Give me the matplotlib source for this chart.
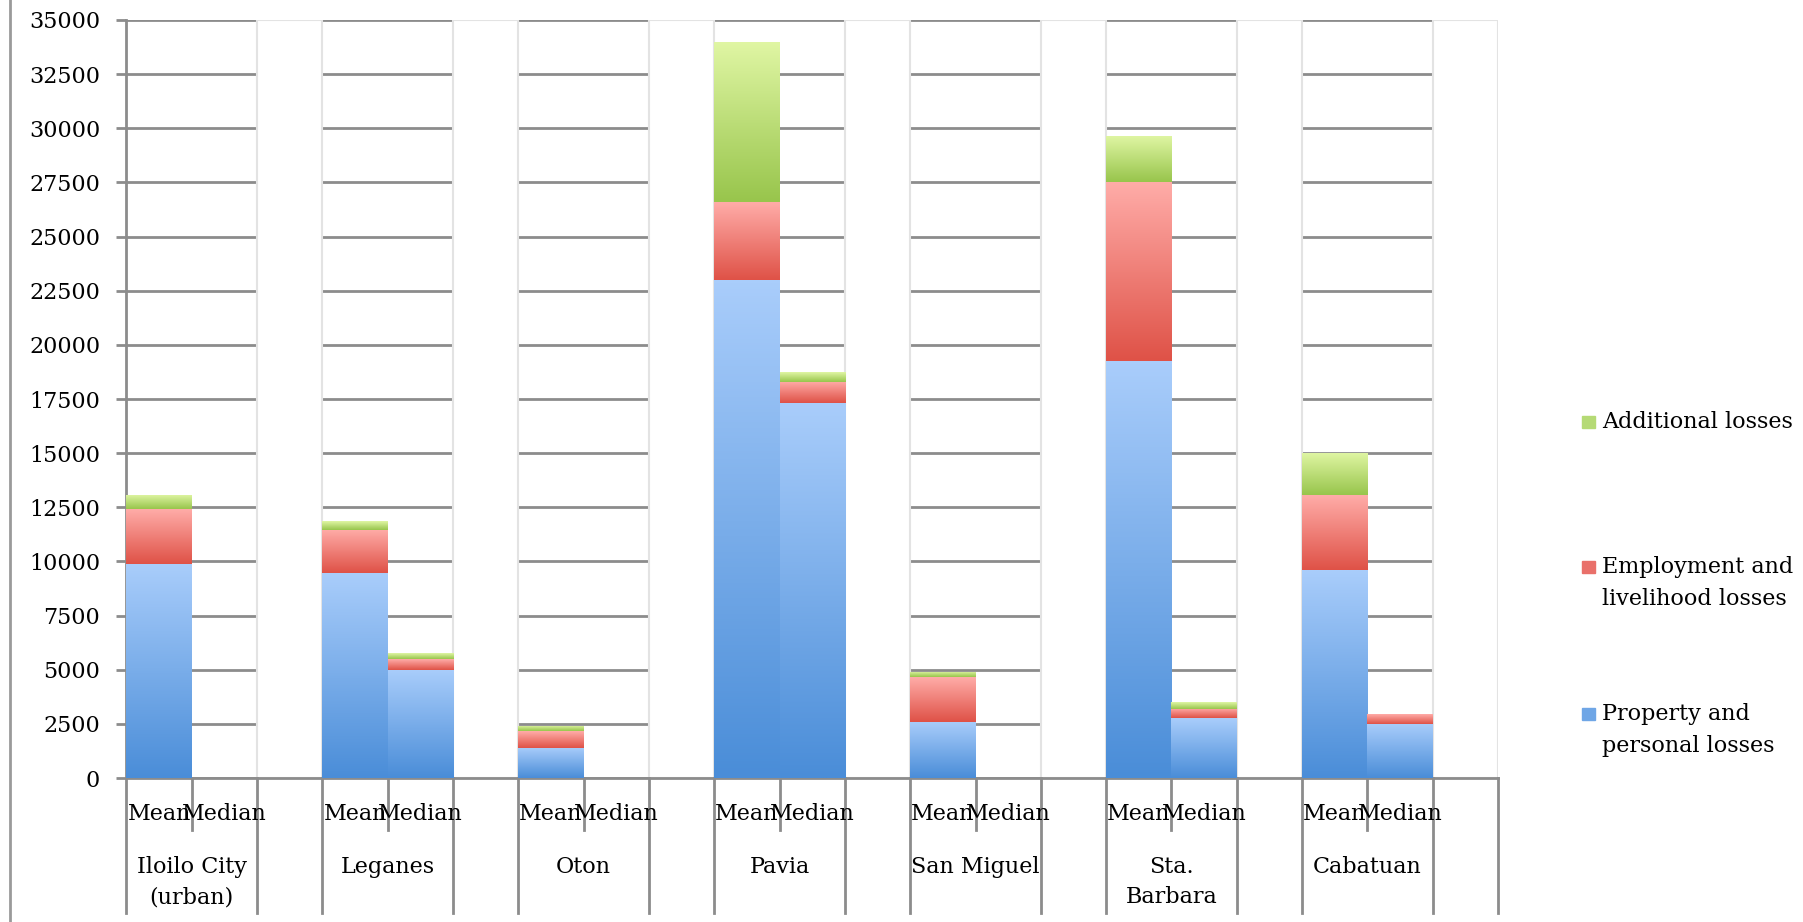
import numpy as np
import matplotlib.pyplot as plt
from matplotlib.colors import LinearSegmentedColormap
from matplotlib.lines import Line2D
from matplotlib.patches import Rectangle

plt.rcParams['font.family'] = ['DejaVu Serif']

# municipalities and the two statistics shown for each
places = ['Iloilo City\n(urban)', 'Leganes', 'Oton', 'Pavia', 'San Miguel', 'Sta.\nBarbara', 'Cabatuan']
stats = ['Mean', 'Median']

# loss components (stacked), per place
property_mean = [9900, 9450, 1400, 23000, 2600, 19250, 9600]
property_median = [0, 5000, 0, 17300, 0, 2750, 2500]
employment_mean = [2500, 2000, 750, 3600, 2050, 8250, 3450]
employment_median = [0, 500, 0, 1000, 0, 450, 450]
additional_mean = [650, 400, 250, 7400, 250, 2150, 1950]
additional_median = [0, 250, 0, 450, 0, 300, 0]

series = ['Property and\npersonal losses', 'Employment and\nlivelihood losses', 'Additional losses']
# (top, bottom) colours of each segment gradient
shades = [('#a9cdfb', '#4a8dd8'), ('#ffaca8', '#df5247'), ('#e0f6a4', '#98c54c')]
legend_colors = ['#6fa6e6', '#e9706a', '#b5da75']

ymax = 35000
grey = '#8c8c8c'
fs = 16

W, H = 1803, 922
fig = plt.figure(figsize=(W / 100, H / 100), dpi=100)
ax = fig.add_axes([126.5 / W, (H - 778) / H, (1498 - 126.5) / W, (778 - 20) / H])

n = len(places)
x_mean = np.arange(n) * 3
x_median = x_mean + 1
x_gap = x_mean + 2
x = np.concatenate([x_mean, x_median])

values = [
    np.array(property_mean + property_median),
    np.array(employment_mean + employment_median),
    np.array(additional_mean + additional_median),
]


def shade(patch, top, bottom):
    h = patch.get_height()
    if h <= 0:
        return
    x0, y0, w = patch.get_x(), patch.get_y(), patch.get_width()
    cmap = LinearSegmentedColormap.from_list('seg', [bottom, top])
    grad = np.linspace(0, 1, 128).reshape(-1, 1)
    im = ax.imshow(grad, cmap=cmap, origin='lower', aspect='auto',
                   extent=[x0, x0 + w, y0, y0 + h], zorder=3,
                   interpolation='bilinear')
    im.set_clip_path(patch)
    patch.set_facecolor('none')


# blank spacer columns between places hide the grid
ax.bar(x_gap, ymax, width=1.0, color='white', edgecolor='#e3e3e3',
       linewidth=1.5, zorder=2)

bottom = np.zeros(len(x))
for vals, (top_c, bot_c) in zip(values, shades):
    bars = ax.bar(x, vals, width=1.0, bottom=bottom, linewidth=0, zorder=3)
    for p in bars:
        shade(p, top_c, bot_c)
    bottom = bottom + vals

ax.set_xlim(-0.5, 3 * n - 0.5)
ax.set_ylim(0, ymax)
ax.set_yticks(np.arange(0, ymax + 1, 2500))
ax.yaxis.grid(True, color=grey, linewidth=2)
ax.set_axisbelow(True)
ax.tick_params(axis='y', length=7, width=2, color=grey, labelsize=fs, pad=12)
ax.set_xticks([])

for side in ['top', 'right']:
    ax.spines[side].set_visible(False)
for side in ['left', 'bottom']:
    ax.spines[side].set_color(grey)
    ax.spines[side].set_linewidth(2)

# category axis: separators and two label rows
trans = ax.get_xaxis_transform()
px = 1.0 / 758
for b in range(3 * n + 1):
    depth = -52 * px if b % 3 == 1 else -135 * px
    ax.add_line(Line2D([b - 0.5, b - 0.5], [0, depth], color=grey,
                       linewidth=2, transform=trans, clip_on=False))
for i in range(n):
    for j, s in enumerate(stats):
        ax.text(x_mean[i] + j, -36 * px, s, transform=trans,
                ha='center', va='center', fontsize=fs)
    for k, line in enumerate(places[i].split('\n')):
        ax.text(x_mean[i] + 0.5, (-89 - 30 * k) * px, line, transform=trans,
                ha='center', va='center', fontsize=fs)

# legend on the right
legend_y = [714, 567, 422]
for label, col, y0 in zip(series, legend_colors, legend_y):
    fig.patches.append(Rectangle(((1582) / W, (H - y0 - 6) / H), 13 / W, 12 / H,
                                 transform=fig.transFigure, color=col))
    for k, line in enumerate(label.split('\n')):
        fig.text(1602 / W, (H - y0 - 32 * k) / H, line, fontsize=fs,
                 ha='left', va='center')

# chart border on the left
fig.add_artist(Line2D([10 / W, 10 / W], [0, 1], color='#9a9a9a', linewidth=2))

fig.savefig('out.png', dpi=100)
